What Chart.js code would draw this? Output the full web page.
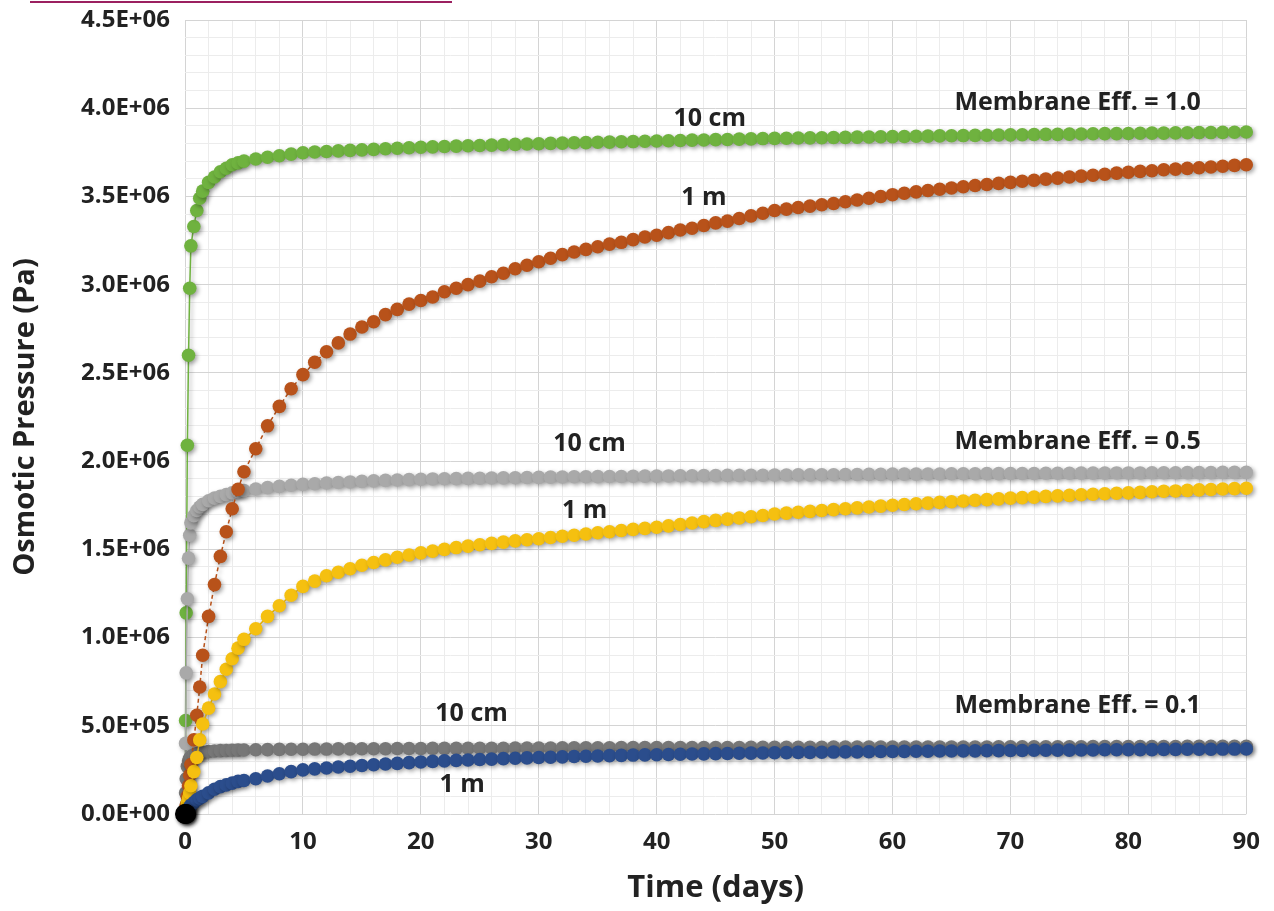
<!DOCTYPE html>
<html>
<head>
<meta charset="utf-8">
<script src="https://cdn.jsdelivr.net/npm/chart.js@4.4.1/dist/chart.umd.min.js"></script>
<style>
html, body { margin: 0; padding: 0; background: #fff; }
#wrap { position: relative; width: 1274px; height: 911px; }
#link { position: absolute; left: 30px; top: 1px; width: 422px; height: 2px; background: #9b2060; }
</style>
</head>
<body>
<div id="wrap"><div id="link"></div><canvas id="chart"></canvas></div>
<script>
// time in days (shared by all series)
var days = [0, 0.05, 0.1, 0.2, 0.3, 0.4, 0.5, 0.75, 1, 1.25, 1.5, 2, 2.5, 3, 3.5, 4, 4.5, 5,
    6, 7, 8, 9, 10, 11, 12, 13, 14, 15, 16, 17, 18, 19, 20, 21, 22, 23, 24, 25, 26, 27, 28, 29, 30,
    31, 32, 33, 34, 35, 36, 37, 38, 39, 40, 41, 42, 43, 44, 45, 46, 47, 48, 49, 50,
    51, 52, 53, 54, 55, 56, 57, 58, 59, 60, 61, 62, 63, 64, 65, 66, 67, 68, 69, 70,
    71, 72, 73, 74, 75, 76, 77, 78, 79, 80, 81, 82, 83, 84, 85, 86, 87, 88, 89, 90];

// osmotic pressure in MPa (x 1E+06 Pa)
var eff10_10cm = [0, 0.53, 1.14, 2.09, 2.60, 2.98, 3.22, 3.33, 3.42, 3.49, 3.53, 3.58, 3.61, 3.64, 3.66, 3.68, 3.69, 3.70,
    3.712, 3.722, 3.731, 3.740, 3.748,
    3.752, 3.755, 3.758, 3.761, 3.764, 3.767, 3.770, 3.773, 3.776, 3.779,
    3.781, 3.783, 3.785, 3.787, 3.789, 3.791, 3.793, 3.795, 3.797, 3.799,
    3.801, 3.802, 3.804, 3.805, 3.807, 3.808, 3.810, 3.811, 3.813, 3.814,
    3.816, 3.817, 3.819, 3.820, 3.822, 3.823, 3.825, 3.826, 3.828, 3.829,
    3.830, 3.831, 3.832, 3.833, 3.834, 3.835, 3.836, 3.837, 3.838, 3.839,
    3.840, 3.841, 3.842, 3.843, 3.844, 3.845, 3.846, 3.847, 3.848, 3.849,
    3.850, 3.851, 3.852, 3.852, 3.853, 3.854, 3.855, 3.856, 3.856, 3.857,
    3.858, 3.859, 3.859, 3.860, 3.861, 3.862, 3.862, 3.863, 3.864, 3.865];

var eff10_1m = [0, 0.02, 0.05, 0.10, 0.16, 0.22, 0.28, 0.42, 0.56, 0.72, 0.90, 1.12, 1.30, 1.46, 1.60, 1.73, 1.84, 1.94,
    2.07, 2.20, 2.31, 2.41, 2.49,
    2.56, 2.62, 2.67, 2.72, 2.76, 2.79, 2.83, 2.86, 2.89, 2.91,
    2.93, 2.96, 2.98, 3.00, 3.02, 3.045, 3.065, 3.09, 3.11, 3.13,
    3.15, 3.17, 3.185, 3.20, 3.215, 3.23, 3.24, 3.255, 3.27, 3.28,
    3.295, 3.31, 3.32, 3.335, 3.35, 3.36, 3.375, 3.39, 3.405, 3.42,
    3.428, 3.437, 3.445, 3.453, 3.46, 3.47, 3.48, 3.49, 3.50, 3.51,
    3.518, 3.526, 3.534, 3.541, 3.548, 3.555, 3.562, 3.568, 3.574, 3.58,
    3.586, 3.592, 3.598, 3.604, 3.61, 3.615, 3.62, 3.626, 3.632, 3.637,
    3.642, 3.646, 3.651, 3.655, 3.659, 3.663, 3.667, 3.671, 3.676, 3.68];

var eff05_10cm = [0, 0.40, 0.80, 1.22, 1.45, 1.58, 1.65, 1.69, 1.72, 1.74, 1.755, 1.775, 1.79, 1.80, 1.81, 1.82, 1.827, 1.833,
    1.842, 1.850, 1.857, 1.863, 1.868,
    1.872, 1.876, 1.879, 1.882, 1.885, 1.888, 1.891, 1.893, 1.895, 1.897,
    1.899, 1.900, 1.901, 1.902, 1.903, 1.904, 1.905, 1.906, 1.907, 1.908,
    1.909, 1.910, 1.911, 1.911, 1.912, 1.913, 1.913, 1.914, 1.915, 1.915,
    1.916, 1.917, 1.917, 1.918, 1.918, 1.919, 1.919, 1.920, 1.920, 1.921,
    1.921, 1.922, 1.922, 1.923, 1.923, 1.924, 1.924, 1.925, 1.925, 1.926,
    1.926, 1.926, 1.927, 1.927, 1.928, 1.928, 1.928, 1.929, 1.929, 1.930,
    1.930, 1.930, 1.931, 1.931, 1.931, 1.932, 1.932, 1.932, 1.933, 1.933,
    1.933, 1.934, 1.934, 1.934, 1.935, 1.935, 1.935, 1.936, 1.936, 1.936];

var eff05_1m = [0, 0.01, 0.03, 0.06, 0.09, 0.12, 0.16, 0.24, 0.32, 0.42, 0.51, 0.60, 0.68, 0.75, 0.82, 0.88, 0.94, 0.99,
    1.05, 1.12, 1.18, 1.24, 1.29,
    1.32, 1.35, 1.37, 1.39, 1.41, 1.425, 1.44, 1.455, 1.468, 1.48,
    1.49, 1.50, 1.51, 1.518, 1.526, 1.534, 1.541, 1.548, 1.554, 1.56,
    1.567, 1.574, 1.58, 1.587, 1.594, 1.60, 1.607, 1.613, 1.619, 1.625,
    1.633, 1.641, 1.649, 1.657, 1.664, 1.671, 1.678, 1.685, 1.692, 1.70,
    1.705, 1.71, 1.715, 1.72, 1.725, 1.73, 1.735, 1.74, 1.745, 1.75,
    1.754, 1.758, 1.762, 1.766, 1.77, 1.774, 1.778, 1.782, 1.786, 1.79,
    1.793, 1.796, 1.80, 1.803, 1.806, 1.809, 1.812, 1.815, 1.818, 1.82,
    1.823, 1.826, 1.829, 1.831, 1.834, 1.837, 1.839, 1.842, 1.844, 1.846];

var eff01_10cm = [0, 0.12, 0.20, 0.27, 0.30, 0.315, 0.325, 0.335, 0.342, 0.347, 0.350, 0.354, 0.357, 0.359, 0.360, 0.361, 0.362, 0.363,
    0.364, 0.365, 0.366, 0.367, 0.367,
    0.368, 0.368, 0.369, 0.369, 0.370, 0.370, 0.370, 0.371, 0.371, 0.371,
    0.372, 0.372, 0.372, 0.373, 0.373, 0.373, 0.373, 0.374, 0.374, 0.374,
    0.374, 0.375, 0.375, 0.375, 0.375, 0.375, 0.376, 0.376, 0.376, 0.376,
    0.376, 0.377, 0.377, 0.377, 0.377, 0.377, 0.377, 0.378, 0.378, 0.378,
    0.378, 0.378, 0.378, 0.378, 0.379, 0.379, 0.379, 0.379, 0.379, 0.379,
    0.379, 0.380, 0.380, 0.380, 0.380, 0.380, 0.380, 0.380, 0.381, 0.381,
    0.381, 0.381, 0.381, 0.381, 0.381, 0.381, 0.382, 0.382, 0.382, 0.382,
    0.382, 0.382, 0.382, 0.382, 0.383, 0.383, 0.383, 0.383, 0.383, 0.383];

var eff01_1m = [0, 0.005, 0.01, 0.02, 0.03, 0.04, 0.05, 0.065, 0.08, 0.09, 0.10, 0.12, 0.14, 0.155, 0.165, 0.175, 0.185, 0.19,
    0.20, 0.215, 0.228, 0.24, 0.25,
    0.256, 0.261, 0.266, 0.271, 0.275, 0.279, 0.283, 0.287, 0.291, 0.295,
    0.298, 0.301, 0.304, 0.306, 0.309, 0.311, 0.314, 0.316, 0.318, 0.32,
    0.322, 0.324, 0.326, 0.327, 0.329, 0.331, 0.332, 0.334, 0.335, 0.336,
    0.337, 0.339, 0.34, 0.341, 0.342, 0.343, 0.344, 0.345, 0.346, 0.347,
    0.348, 0.349, 0.349, 0.35, 0.351, 0.352, 0.352, 0.353, 0.354, 0.354,
    0.355, 0.356, 0.356, 0.357, 0.357, 0.358, 0.358, 0.359, 0.359, 0.36,
    0.36, 0.361, 0.361, 0.362, 0.362, 0.363, 0.363, 0.364, 0.364, 0.365,
    0.365, 0.365, 0.366, 0.366, 0.367, 0.367, 0.367, 0.368, 0.368, 0.369];

// black markers piled up at the origin
var originDays = [0, 0.05, 0.1];
var originVals = [0, 0, 0];

// in-plot annotations (days, MPa)
var noteText = ['10 cm', '1 m', 'Membrane Eff. = 1.0', '10 cm', 'Membrane Eff. = 0.5', '1 m', '10 cm', 'Membrane Eff. = 0.1', '1 m'];
var noteDay = [44.5, 44.0, 75.7, 34.3, 75.7, 33.9, 24.3, 75.7, 23.5];
var noteVal = [3.94, 3.49, 4.03, 2.10, 2.11, 1.72, 0.57, 0.61, 0.165];

function pts(xs, ys) {
    return xs.map(function (x, i) { return { x: x, y: ys[i] }; });
}

function series(label, xs, ys, color, extra) {
    var ds = {
        label: label,
        data: pts(xs, ys),
        borderColor: color,
        backgroundColor: color,
        borderWidth: 1.5,
        pointRadius: 6.8,
        pointBorderWidth: 0,
        pointBackgroundColor: color,
        tension: 0,
        clip: false
    };
    for (var k in extra) ds[k] = extra[k];
    return ds;
}

function sci(v) {
    var pa = Math.round(v * 1e7) / 10;
    if (pa === 0) return '0.0E+00';
    var e = Math.floor(Math.log10(pa) + 1e-9);
    var m = pa / Math.pow(10, e);
    return m.toFixed(1) + 'E+' + (e < 10 ? '0' : '') + e;
}

var shadowPlugin = {
    id: 'shadow',
    beforeDatasetDraw: function (chart) {
        var c = chart.ctx;
        c.save();
        c.shadowColor = 'rgba(0,0,0,0.35)';
        c.shadowBlur = 4;
        c.shadowOffsetX = 2;
        c.shadowOffsetY = 2;
    },
    afterDatasetDraw: function (chart) {
        chart.ctx.restore();
    }
};

var notePlugin = {
    id: 'notes',
    afterDatasetsDraw: function (chart) {
        var c = chart.ctx, xs = chart.scales.x, ys = chart.scales.y;
        c.save();
        c.font = 'bold 25px "Open Sans"';
        c.fillStyle = '#222';
        c.textAlign = 'center';
        c.textBaseline = 'middle';
        noteText.forEach(function (t, i) {
            c.fillText(t, xs.getPixelForValue(noteDay[i]), ys.getPixelForValue(noteVal[i]));
        });
        c.restore();
    }
};

var tickFont = { family: 'Open Sans', size: 24, weight: 'bold' };

var ctx = document.getElementById('chart');
var chart = new Chart(ctx, {
    type: 'line',
    data: {
        datasets: [
            series('origin', originDays, originVals, '#000000', { pointRadius: 10 }),
            series('1 m, Eff 0.1', days, eff01_1m, '#2b4d8c'),
            series('1 m, Eff 0.5', days, eff05_1m, '#f5c010'),
            series('1 m, Eff 1.0', days, eff10_1m, '#b8521a', { borderDash: [4, 3] }),
            series('10 cm, Eff 0.1', days, eff01_10cm, '#777777'),
            series('10 cm, Eff 0.5', days, eff05_10cm, '#a9a9a9'),
            series('10 cm, Eff 1.0', days, eff10_10cm, '#6fb23f')
        ]
    },
    options: {
        responsive: true,
        maintainAspectRatio: false,
        animation: false,
        layout: { padding: { top: 20, right: 24, left: 0, bottom: 0 } },
        plugins: {
            legend: { display: false },
            tooltip: { enabled: false }
        },
        scales: {
            x: {
                type: 'linear',
                min: 0,
                max: 90,
                afterFit: function (s) { s.height = 97; },
                border: { display: false },
                grid: {
                    drawTicks: false,
                    color: function (c) { return c.tick.value % 10 === 0 ? '#d4d4d4' : '#ececec'; }
                },
                ticks: {
                    stepSize: 2,
                    autoSkip: false,
                    maxRotation: 0,
                    padding: 14,
                    color: '#222',
                    font: tickFont,
                    callback: function (v) { return v % 10 === 0 ? String(v) : ''; }
                },
                title: {
                    display: true,
                    text: 'Time (days)',
                    color: '#222',
                    font: { family: 'Open Sans', size: 31, weight: 'bold' },
                    padding: { top: 0, bottom: 4 }
                }
            },
            y: {
                min: 0,
                max: 4.5,
                afterFit: function (s) { s.width = 185; s.paddingTop = 0; s.paddingBottom = 0; },
                border: { display: false },
                grid: {
                    drawTicks: false,
                    color: function (c) {
                        var v = Math.round(c.tick.value * 10);
                        return v % 5 === 0 ? '#d4d4d4' : '#ececec';
                    }
                },
                ticks: {
                    stepSize: 0.1,
                    autoSkip: false,
                    padding: 15,
                    color: '#222',
                    font: tickFont,
                    callback: function (v) {
                        var k = Math.round(v * 10);
                        return k % 5 === 0 ? sci(k / 10) : '';
                    }
                },
                title: {
                    display: true,
                    text: 'Osmotic Pressure (Pa)',
                    color: '#222',
                    font: { family: 'Open Sans', size: 29, weight: 'bold' },
                    padding: { top: 8, bottom: 0 }
                }
            }
        }
    },
    plugins: [shadowPlugin, notePlugin]
});
</script>
</body>
</html>
